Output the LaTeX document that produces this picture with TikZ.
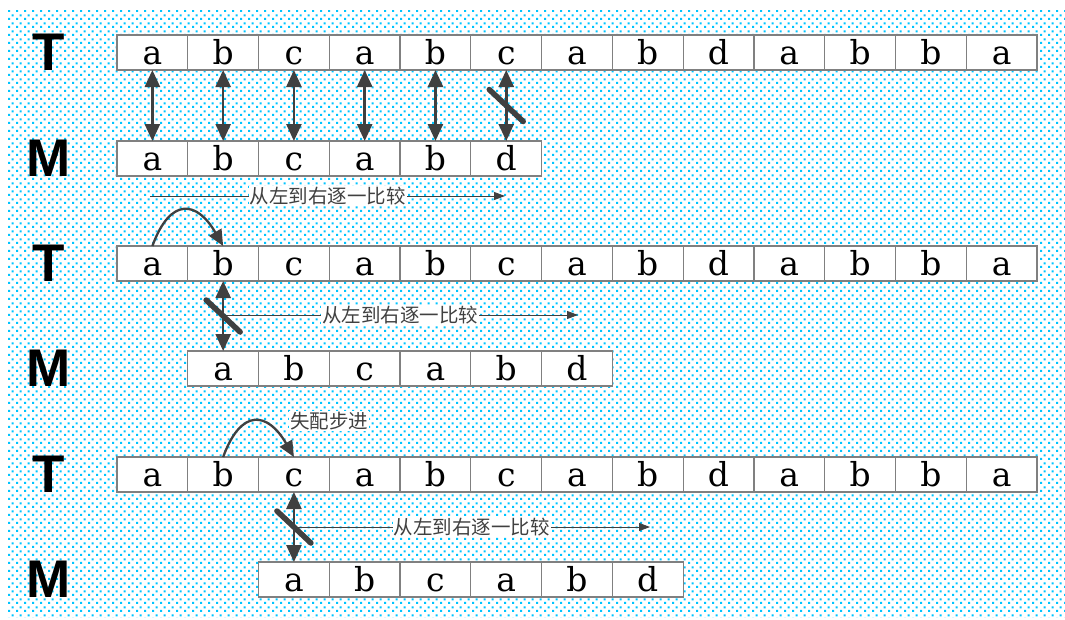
\documentclass[tikz,border=0pt]{standalone}
\usepackage{fontspec}
\setmainfont{DejaVu Serif}
\newfontfamily\cjk{Noto Sans CJK SC}
\newfontfamily\tmfont{Liberation Sans}
\usetikzlibrary{arrows.meta, positioning, calc, patterns}

\definecolor{dotcyan}{RGB}{0,196,255}
\definecolor{ink}{RGB}{64,64,64}

\pgfdeclarepatternformonly{cyandots}{\pgfqpoint{0pt}{0pt}}{\pgfqpoint{8pt}{8pt}}{\pgfqpoint{8pt}{8pt}}{%
  \pgfpathrectangle{\pgfqpoint{0pt}{0pt}}{\pgfqpoint{2.4pt}{2.4pt}}%
  \pgfpathrectangle{\pgfqpoint{4pt}{4pt}}{\pgfqpoint{2.4pt}{2.4pt}}%
  \pgfusepath{fill}}

\begin{document}
\begin{tikzpicture}[
  x=1pt, y=-1pt,
  cell/.style={draw=black!50, line width=1.2pt, fill=white, outer sep=0pt, inner sep=0pt,
               minimum width=70.77pt, minimum height=35pt, anchor=north west,
               font=\fontsize{33}{35}\selectfont, text height=24.5pt, text depth=0pt},
  tm/.style={font=\tmfont\bfseries\fontsize{53}{55}\selectfont, inner sep=0pt},
  note/.style={font=\cjk\fontsize{19.5}{21}\selectfont, text=ink, fill=white, inner sep=1pt},
  ar/.style={-{Triangle[length=11pt,width=8pt]}, ink, line width=0.8pt},
  dbl/.style={{Triangle[length=17pt,width=15pt]}-{Triangle[length=17pt,width=15pt]},
              ink, line width=2.6pt},
  hop/.style={-{Triangle[length=16pt,width=14pt]}, ink, line width=2.3pt},
  cut/.style={ink, line width=5.5pt, line cap=round},
]
\useasboundingbox (0,0) rectangle (1065,619);
\fill[white] (0,0) rectangle (1065,619);
\fill[pattern=cyandots, pattern color=dotcyan] (8,10) rectangle (1065,617);

\foreach \r/\y in {1/35,2/246,3/457}
  \foreach \ch [count=\i from 0] in {a,b,c,a,b,c,a,b,d,a,b,b,a}
    \node[cell] (t\r-\i) at ({117+70.77*\i},\y) {\ch};
\foreach \r/\y/\s in {1/141/0,2/351/1,3/562/2}
  \foreach \ch [count=\i from 0] in {a,b,c,a,b,d}
    \node[cell] (m\r-\i) at ({117+70.77*(\i+\s)},\y) {\ch};

\foreach \r in {1,2,3} {
  \node[tm] (lt\r) at (49,0 |- t\r-0.west) {T};
  \node[tm] (lm\r) at (49,0 |- m\r-0.west) {M};
}

\foreach \i in {0,...,5}
  \draw[dbl] (t1-\i.south) -- (m1-\i.north);
\draw[dbl] (t2-1.south) -- (m2-0.north);
\draw[dbl] (t3-2.south) -- (m3-0.north);

\path (t1-5.south) -- coordinate[midway] (x1) (m1-5.north);
\path (t2-1.south) -- coordinate[midway] (x2) (m2-0.north);
\path (t3-2.south) -- coordinate[midway] (x3) (m3-0.north);
\foreach \k in {1,2,3}
  \draw[cut] ($(x\k)+(-17,-16)$) -- ($(x\k)+(17,16)$);

\coordinate (s1) at (150,196);
\coordinate (e1) at (505,196);
\coordinate (s2) at (222,315);
\coordinate (e2) at (578,315);
\coordinate (s3) at (293,527);
\coordinate (e3) at (650,527);
\foreach \k in {1,2,3}
  \draw[ar] (s\k) -- node[note] (c\k) {从左到右逐一比较} (e\k);

\draw[hop] (t2-0.north) to[out=70, in=120, looseness=1.9] (t2-1.north);
\draw[hop] (t3-1.north) to[out=70, in=120, looseness=1.9] (t3-2.north);
\node[note] (mis) at (329,421) {失配步进};
\end{tikzpicture}
\end{document}
